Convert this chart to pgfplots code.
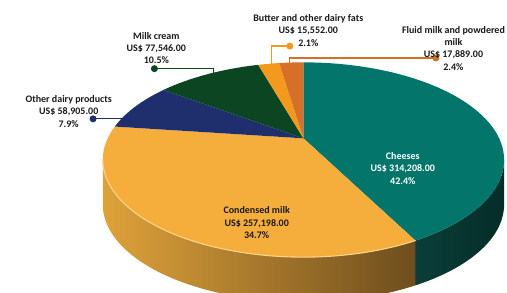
\documentclass[border=0pt]{standalone}
\usepackage{pgfplots}
\pgfplotsset{compat=1.18}
\usepackage{pgfplotstable}
\usepackage{fontspec}
\setmainfont{Carlito}

\definecolor{slice0}{HTML}{03756B}
\definecolor{slice1}{HTML}{F5AE3C}
\definecolor{slice2}{HTML}{1F2F6E}
\definecolor{slice3}{HTML}{0B4522}
\definecolor{slice4}{HTML}{F39A1E}
\definecolor{slice5}{HTML}{D66F27}
\definecolor{sideL0}{HTML}{0B3E38}
\definecolor{sideM0}{HTML}{083631}
\definecolor{sideR0}{HTML}{052C28}
\definecolor{sideL1}{HTML}{DFA23A}
\definecolor{sideM1}{HTML}{C08A36}
\definecolor{sideR1}{HTML}{6E4E1E}
\definecolor{sideL2}{HTML}{1F2F6E}
\definecolor{sideM2}{HTML}{1F2F6E}
\definecolor{sideR2}{HTML}{1F2F6E}
\definecolor{sideL3}{HTML}{0B4522}
\definecolor{sideM3}{HTML}{0B4522}
\definecolor{sideR3}{HTML}{0B4522}
\definecolor{sideL4}{HTML}{F39A1E}
\definecolor{sideM4}{HTML}{F39A1E}
\definecolor{sideR4}{HTML}{F39A1E}
\definecolor{sideL5}{HTML}{D66F27}
\definecolor{sideM5}{HTML}{D66F27}
\definecolor{sideR5}{HTML}{D66F27}
\definecolor{hl}{HTML}{FCD48A}
\definecolor{labcol}{HTML}{1A1A1A}

% values in US$ : Cheeses, Condensed milk, Other dairy products, Milk cream, Butter and other dairy fats, Fluid milk and powdered milk
\pgfplotstableread{
value
314208
257198
58905
77546
15552
17889
}\pietable

\newcommand\lab{\fontsize{10.3}{12.6}\selectfont\bfseries}
% geometry of the top ellipse (image pixel units, y downwards)
\def\cx{298}\def\cy{164}\def\ra{206}\def\rb{100}
\def\pcx{298}\def\pcy{142}\def\depth{46}
\def\s{0.1114}

\begin{document}
\pgfplotstablegetrowsof{\pietable}
\pgfmathtruncatemacro{\nrows}{\pgfplotsretval-1}
\gdef\total{0}
\foreach \i in {0,...,\nrows}{%
  \pgfplotstablegetelem{\i}{value}\of\pietable
  \xdef\total{\fpeval{\total+\pgfplotsretval}}%
}
\gdef\cum{0}
\foreach \i in {0,...,\nrows}{%
  \pgfplotstablegetelem{\i}{value}\of\pietable
  \xdef\thS{\fpeval{round(90-360*\cum/\total,4)}}%
  \xdef\cum{\fpeval{\cum+\pgfplotsretval}}%
  \xdef\thE{\fpeval{round(90-360*\cum/\total,4)}}%
  \expandafter\xdef\csname psS\i\endcsname{\fpeval{round(\thS+2*atand(\s*cosd(\thS),1+\s*sind(\thS)),4)}}%
  \expandafter\xdef\csname psE\i\endcsname{\fpeval{round(\thE+2*atand(\s*cosd(\thE),1+\s*sind(\thE)),4)}}%
}
\begin{tikzpicture}
\begin{axis}[width=507bp, height=300bp, scale only axis,
  xmin=0, xmax=507, ymin=0, ymax=300, y dir=reverse,
  hide axis, clip=false, at={(0,0)}, anchor=south west]
\pgfplotsextra{%
\begin{scope}
\clip (axis cs:0,0) rectangle (axis cs:507,300);
% side walls
\foreach \i in {0,...,\nrows}{%
  \edef\psS{\csname psS\i\endcsname}\edef\psE{\csname psE\i\endcsname}%
  \pgfmathsetmacro\sa{min(\psS,0)}%
  \pgfmathsetmacro\sb{max(\psE,-180)}%
  \pgfmathparse{\sa>\sb ? 1 : 0}%
  \ifdim\pgfmathresult pt>0.5pt
    \pgfmathsetmacro\xa{\cx+\ra*cos(\sa)}%
    \pgfmathsetmacro\ya{\cy-\rb*sin(\sa)}%
    \shade[left color=sideL\i, middle color=sideM\i, right color=sideR\i]
      (axis cs:\xa,\ya)
      \foreach \k [evaluate=\k as \pp using \sa+(\sb-\sa)*\k/60,
                   evaluate=\k as \px using \cx+\ra*cos(\pp),
                   evaluate=\k as \py using \cy-\rb*sin(\pp)] in {1,...,60}{ -- (axis cs:\px,\py) }
      \foreach \k [evaluate=\k as \pp using \sb+(\sa-\sb)*\k/60,
                   evaluate=\k as \px using \cx+\ra*cos(\pp),
                   evaluate=\k as \py using \cy+\depth-\rb*sin(\pp)] in {0,...,60}{ -- (axis cs:\px,\py) }
      -- cycle;
  \fi
}
% top surface
\foreach \i in {0,...,\nrows}{%
  \edef\psS{\csname psS\i\endcsname}\edef\psE{\csname psE\i\endcsname}%
  \fill[slice\i] (axis cs:\pcx,\pcy)
    \foreach \k [evaluate=\k as \pp using \psS+(\psE-\psS)*\k/60,
                 evaluate=\k as \px using \cx+\ra*cos(\pp),
                 evaluate=\k as \py using \cy-\rb*sin(\pp)] in {0,...,60}{ -- (axis cs:\px,\py) }
    -- cycle;
}
% highlight on the front edge of the condensed milk slice
\edef\psS{\csname psS1\endcsname}%
\pgfmathsetmacro\sa{min(\psS,0)}%
\pgfmathsetmacro\xa{\cx+\ra*cos(\sa)}%
\pgfmathsetmacro\ya{\cy-\rb*sin(\sa)}%
\draw[hl, line width=1.1bp, line cap=round] (axis cs:\xa,\ya)
  \foreach \k [evaluate=\k as \pp using \sa+(-180-\sa)*\k/60,
               evaluate=\k as \px using \cx+\ra*cos(\pp),
               evaluate=\k as \py using \cy-\rb*sin(\pp)] in {1,...,60}{ -- (axis cs:\px,\py) };
\end{scope}
% leader lines
\draw[slice3, line width=1.3bp] (axis cs:145,70.5) -- (axis cs:206,70.5) -- (axis cs:206,80);
\fill[slice3] (axis cs:145,70.5) circle[radius=3.6bp];
\draw[slice2, line width=1.3bp] (axis cs:82,122) -- (axis cs:200,122);
\fill[slice2] (axis cs:82,122) circle[radius=3.6bp];
\draw[slice4, line width=1.3bp] (axis cs:284,47.3) -- (axis cs:265,47.3) -- (axis cs:265,72);
\fill[slice4] (axis cs:284,47.3) circle[radius=3.6bp];
\draw[slice5, line width=1.3bp] (axis cs:434,59.5) -- (axis cs:284,59.5) -- (axis cs:284,70);
\fill[slice5] (axis cs:434,59.5) circle[radius=3.6bp];
% labels
\node[align=center, font=\lab, text=labcol] at (axis cs:147,49.5) {Milk cream\\US\$ 77,546.00\\10.5\%};
\node[align=center, font=\lab, text=labcol] at (axis cs:57,114.5) {Other dairy products\\US\$ 58,905.00\\7.9\%};
\node[align=center, font=\lab, text=labcol] at (axis cs:303,31.3) {Butter and other dairy fats\\US\$ 15,552.00\\2.1\%};
\node[align=center, font=\lab, text=labcol] at (axis cs:452,49.6) {Fluid milk and powdered\\milk\\US\$ 17,889.00\\2.4\%};
\node[align=center, font=\lab, text=labcol] at (axis cs:250,228.5) {Condensed milk\\US\$ 257,198.00\\34.7\%};
\node[align=center, font=\lab, text=white] at (axis cs:400,172.8) {Cheeses\\US\$ 314,208.00\\42.4\%};
}
\end{axis}
\pgfresetboundingbox
\path (0,0) rectangle (507bp,300bp);
\end{tikzpicture}
\end{document}
